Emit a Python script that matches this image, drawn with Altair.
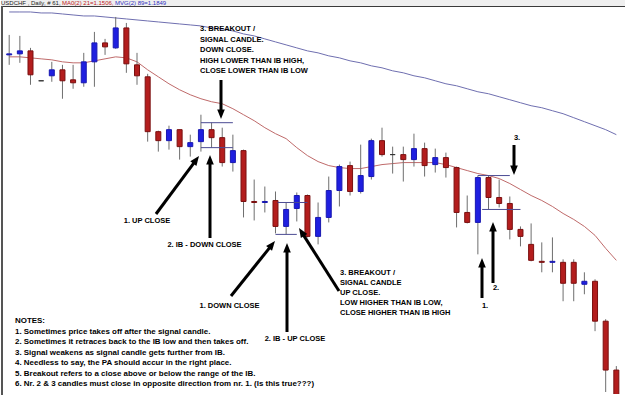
import math
import altair as alt
import pandas as pd

# ---------------- data ----------------
idx = list(range(58))

opens = [1.2085, 1.2088, 1.2097, 1.2007, 1.2022, 1.2040, 1.2010, 1.2001, 1.2064, 1.2121,
         1.2106, 1.2166, 1.2055, 1.2019, 1.1854, 1.1827, 1.1860, 1.1809, 1.1824, 1.1860,
         1.1836, 1.1761, 1.1797, 1.1644, 1.1641, 1.1647, 1.1569, 1.1623, 1.1662, 1.1539,
         1.1596, 1.1677, 1.1752, 1.1674, 1.1719, 1.1827, 1.1785, 1.1785, 1.1770, 1.1803,
         1.1755, 1.1776, 1.1746, 1.1611, 1.1581, 1.1716, 1.1656, 1.1638, 1.1560, 1.1515,
         1.1464, 1.1461, 1.1461, 1.1461, 1.1395, 1.1404, 1.1284, 1.1137]

highs = [1.2145, 1.2142, 1.2106, 1.2007, 1.2064, 1.2055, 1.2055, 1.2091, 1.2154, 1.2133,
         1.2199, 1.2181, 1.2091, 1.2028, 1.1857, 1.1872, 1.1860, 1.1845, 1.1905, 1.1881,
         1.1866, 1.1845, 1.1800, 1.1710, 1.1689, 1.1674, 1.1641, 1.1671, 1.1665, 1.1641,
         1.1719, 1.1755, 1.1764, 1.1815, 1.1833, 1.1866, 1.1809, 1.1809, 1.1848, 1.1821,
         1.1803, 1.1791, 1.1749, 1.1662, 1.1722, 1.1722, 1.1710, 1.1659, 1.1569, 1.1578,
         1.1521, 1.1536, 1.1470, 1.1470, 1.1431, 1.1410, 1.1290, 1.1149]

lows = [1.2055, 1.2061, 1.1995, 1.2007, 1.2004, 1.1953, 1.1983, 1.1989, 1.1989, 1.2085,
        1.2103, 1.2031, 1.1995, 1.1824, 1.1794, 1.1800, 1.1770, 1.1779, 1.1794, 1.1806,
        1.1749, 1.1734, 1.1596, 1.1587, 1.1611, 1.1548, 1.1545, 1.1584, 1.1536, 1.1515,
        1.1581, 1.1629, 1.1662, 1.1668, 1.1710, 1.1779, 1.1728, 1.1704, 1.1749, 1.1719,
        1.1731, 1.1716, 1.1566, 1.1578, 1.1485, 1.1620, 1.1626, 1.1530, 1.1509, 1.1464,
        1.1431, 1.1431, 1.1344, 1.1344, 1.1365, 1.1254, 1.1071, 1.0990]

closes = [1.2088, 1.2097, 1.2025, 1.2007, 1.2040, 1.2007, 1.2001, 1.2064, 1.2121, 1.2109,
          1.2166, 1.2058, 1.2022, 1.1854, 1.1827, 1.1860, 1.1809, 1.1821, 1.1860, 1.1836,
          1.1761, 1.1797, 1.1644, 1.1641, 1.1644, 1.1569, 1.1620, 1.1662, 1.1539, 1.1596,
          1.1677, 1.1749, 1.1674, 1.1722, 1.1827, 1.1785, 1.1785, 1.1770, 1.1803, 1.1752,
          1.1776, 1.1746, 1.1611, 1.1581, 1.1716, 1.1656, 1.1638, 1.1560, 1.1539, 1.1467,
          1.1461, 1.1464, 1.1398, 1.1398, 1.1404, 1.1284, 1.1137, 1.1020]

ma21 = [1.2079, 1.2079, 1.2076, 1.2073, 1.2070, 1.2064, 1.2061, 1.2061, 1.2067, 1.2073,
        1.2079, 1.2076, 1.2064, 1.2040, 1.2019, 1.1998, 1.1980, 1.1965, 1.1953, 1.1944,
        1.1938, 1.1923, 1.1905, 1.1887, 1.1866, 1.1848, 1.1833, 1.1806, 1.1782, 1.1764,
        1.1752, 1.1746, 1.1743, 1.1743, 1.1749, 1.1755, 1.1758, 1.1761, 1.1761, 1.1761,
        1.1761, 1.1755, 1.1746, 1.1737, 1.1728, 1.1722, 1.1713, 1.1698, 1.1680, 1.1662,
        1.1647, 1.1629, 1.1608, 1.1590, 1.1569, 1.1542, 1.1503, 1.1467]

ma89 = [1.2214, 1.2214, 1.2214, 1.2211, 1.2211, 1.2208, 1.2205, 1.2202, 1.2202, 1.2199,
        1.2196, 1.2193, 1.2190, 1.2187, 1.2184, 1.2181, 1.2178, 1.2175, 1.2172, 1.2166,
        1.2163, 1.2157, 1.2148, 1.2142, 1.2133, 1.2124, 1.2115, 1.2106, 1.2097, 1.2091,
        1.2082, 1.2076, 1.2067, 1.2061, 1.2052, 1.2046, 1.2037, 1.2031, 1.2022, 1.2016,
        1.2007, 1.1998, 1.1992, 1.1983, 1.1974, 1.1968, 1.1959, 1.1950, 1.1941, 1.1932,
        1.1926, 1.1917, 1.1908, 1.1896, 1.1884, 1.1872, 1.1860, 1.1845]

# inside-bar range lines: from candle, to candle, price
ib_from = [18, 18, 25.2, 25, 44, 44.4]
ib_to = [21, 21, 28, 27, 47, 48]
ib_price = [1.1881, 1.1806, 1.1641, 1.1545, 1.1722, 1.1620]

title_parts = ["USDCHF , Daily, # 61,", "MA0(2) 21=1.1506,", "MVG(2) 89=1.1849"]

top_note = ["3. BREAKOUT /", "SIGNAL CANDLE.", "DOWN CLOSE.",
            "HIGH LOWER THAN IB HIGH,", "CLOSE LOWER THAN IB LOW"]
mid_note = ["3. BREAKOUT /", "SIGNAL CANDLE", "UP CLOSE.",
            "LOW HIGHER THAN IB LOW,", "CLOSE HIGHER THAN IB HIGH"]
labels = ["1. UP CLOSE", "2. IB - DOWN CLOSE", "1. DOWN CLOSE", "2. IB - UP CLOSE",
          "3.", "2.", "1."]
notes = ["NOTES:",
         "1. Sometimes price takes off after the signal candle.",
         "2. Sometimes it retraces back to the IB low and then takes off.",
         "3. Signal weakens as signal candle gets further from IB.",
         "4. Needless to say, the PA should accur in the right place.",
         "5. Breakout refers to a close above or below the range of the IB.",
         "6. Nr. 2 & 3 candles must close in opposite direction from nr. 1. (Is this true???)"]

# ---------------- layout (pixels) ----------------
W, H = 625, 395
FONT = "Liberation Sans"

# arrows: tail x, tail y, tip x, tip y
arrows = [(220, 80, 220, 119), (155, 214, 198, 156), (209, 238, 209, 155),
          (230, 296, 274, 241), (286, 332, 286, 243), (338, 291, 298, 228),
          (513, 145, 513, 175), (492, 283, 492, 222), (481, 298, 481, 258)]

top_note_pos = (199, [29, 39.5, 50, 60.5, 71])
mid_note_pos = (339, [273, 283, 293, 303, 313])
label_pos = [(146, 221), (203.5, 245), (228.5, 306), (294, 339), (516, 138), (495, 288), (484, 306)]
notes_pos = (14, [321, 331.5, 342, 352.5, 363, 373.5, 384])
title_x = [0, 61, 114]

# ---------------- build tables ----------------
def direction(o, c):
    if c > o:
        return "up"
    if c < o:
        return "down"
    return "flat"

candles = pd.DataFrame({"i": idx, "open": opens, "high": highs, "low": lows, "close": closes})
candles["dir"] = [direction(o, c) for o, c in zip(opens, closes)]
mas = pd.DataFrame({"i": idx, "ma21": ma21, "ma89": ma89})
ib = pd.DataFrame({"a": ib_from, "b": ib_to, "p": ib_price})

rows = []
HEAD = 9.5
for tx, ty, hx, hy in arrows:
    dx, dy = hx - tx, hy - ty
    L = math.hypot(dx, dy)
    ux, uy = dx / L, dy / L
    rows.append({
        "tx": tx, "ty": ty,
        "sx": hx - ux * (HEAD - 2), "sy": hy - uy * (HEAD - 2),
        "cx": hx - ux * HEAD / 2, "cy": hy - uy * HEAD / 2,
        "ang": math.degrees(math.atan2(ux, -uy)) % 360,
    })
arr = pd.DataFrame(rows)

blocks = pd.DataFrame(
    [{"x": top_note_pos[0], "y": y, "t": t} for t, y in zip(top_note, top_note_pos[1])] +
    [{"x": mid_note_pos[0], "y": y, "t": t} for t, y in zip(mid_note, mid_note_pos[1])]
)
lab = pd.DataFrame([{"x": p[0], "y": p[1], "t": t} for t, p in zip(labels, label_pos)])
nts = pd.DataFrame([{"x": notes_pos[0], "y": y, "t": t} for t, y in zip(notes, notes_pos[1])])
one = pd.DataFrame({"k": [0]})

# ---------------- scales ----------------
xs = alt.Scale(domain=[-0.3, 57.25], nice=False, zero=False)
ys = alt.Scale(domain=[1.1065, 1.2250], nice=False, zero=False)
RED, RED_E = "#b31d1d", "#7a1010"
BLUE, BLUE_E = "#1f1fe0", "#1818b0"
FLAT = "#333333"
dir_fill = alt.Scale(domain=["up", "down", "flat"], range=[BLUE, RED, FLAT])
dir_stroke = alt.Scale(domain=["up", "down", "flat"], range=[BLUE_E, RED_E, FLAT])

base = alt.Chart(candles)

ma21_line = alt.Chart(mas).mark_line(color="#bf6a6a", strokeWidth=1, clip=True).encode(
    x=alt.X("i:Q", scale=xs, axis=None), y=alt.Y("ma21:Q", scale=ys, axis=None))
ma89_line = alt.Chart(mas).mark_line(color="#6f6fb0", strokeWidth=1, clip=True).encode(
    x=alt.X("i:Q", scale=xs, axis=None), y=alt.Y("ma89:Q", scale=ys, axis=None))

wicks = base.mark_rule(color="#6e6e6e", strokeWidth=1, clip=True).encode(
    x=alt.X("i:Q", scale=xs, axis=None),
    y=alt.Y("low:Q", scale=ys, axis=None), y2="high:Q")

bodies = base.mark_bar(size=5, strokeWidth=1, clip=True).encode(
    x=alt.X("i:Q", scale=xs, axis=None),
    y=alt.Y("open:Q", scale=ys, axis=None), y2="close:Q",
    color=alt.Color("dir:N", scale=dir_fill, legend=None),
    stroke=alt.Stroke("dir:N", scale=dir_stroke, legend=None))

ib_lines = alt.Chart(ib).mark_rule(color="#4b4b93", strokeWidth=1).encode(
    x=alt.X("a:Q", scale=xs, axis=None), x2="b:Q",
    y=alt.Y("p:Q", scale=ys, axis=None))

shafts = alt.Chart(arr).mark_rule(color="black", strokeWidth=3).encode(
    x=alt.X("tx:Q", scale=None, axis=None), y=alt.Y("ty:Q", scale=None, axis=None),
    x2="sx:Q", y2="sy:Q")
heads = alt.Chart(arr).mark_point(shape="M0,-1L0.8,1L-0.8,1Z", filled=True, color="black",
                                  opacity=1, size=HEAD * HEAD, strokeWidth=0).encode(
    x=alt.X("cx:Q", scale=None, axis=None), y=alt.Y("cy:Q", scale=None, axis=None),
    angle=alt.Angle("ang:Q", scale=None))

block_text = alt.Chart(blocks).mark_text(font=FONT, fontSize=7.5, fontWeight="bold",
                                         align="left", baseline="middle", color="black").encode(
    x=alt.X("x:Q", scale=None, axis=None), y=alt.Y("y:Q", scale=None, axis=None), text="t:N")
label_text = alt.Chart(lab).mark_text(font=FONT, fontSize=7.5, fontWeight="bold",
                                      align="center", baseline="middle", color="black").encode(
    x=alt.X("x:Q", scale=None, axis=None), y=alt.Y("y:Q", scale=None, axis=None), text="t:N")
notes_text = alt.Chart(nts).mark_text(font=FONT, fontSize=7.95, fontWeight="bold",
                                      align="left", baseline="middle", color="black").encode(
    x=alt.X("x:Q", scale=None, axis=None), y=alt.Y("y:Q", scale=None, axis=None), text="t:N")

bar_bg = alt.Chart(one).mark_rect(color="#efefef").encode(
    x=alt.value(0), x2=alt.value(W), y=alt.value(0), y2=alt.value(6))
bar_line = alt.Chart(one).mark_rule(color="#3a3a3a", strokeWidth=1).encode(
    x=alt.value(0), x2=alt.value(W), y=alt.value(6.5))
left_border = alt.Chart(one).mark_rule(color="#555555", strokeWidth=2).encode(
    x=alt.value(1), y=alt.value(6), y2=alt.value(H))

title_layers = []
for part, xpos, col in zip(title_parts, title_x, ["#222222", "#c02020", "#3030c0"]):
    title_layers.append(
        alt.Chart(one).mark_text(font=FONT, fontSize=6, align="left", baseline="alphabetic",
                                 color=col).encode(
            x=alt.value(xpos), y=alt.value(5.3), text=alt.value(part)))

chart = alt.layer(
    ma89_line, ma21_line, wicks, bodies, ib_lines, shafts, heads,
    block_text, label_text, notes_text, bar_bg, bar_line, left_border, *title_layers
).properties(
    width=W, height=H, padding=0,
    autosize=alt.AutoSizeParams(type="fit", contains="padding"),
    background="white",
).configure_view(stroke=None)

chart.save("out.html", embed_options={"renderer": "svg", "actions": False})
